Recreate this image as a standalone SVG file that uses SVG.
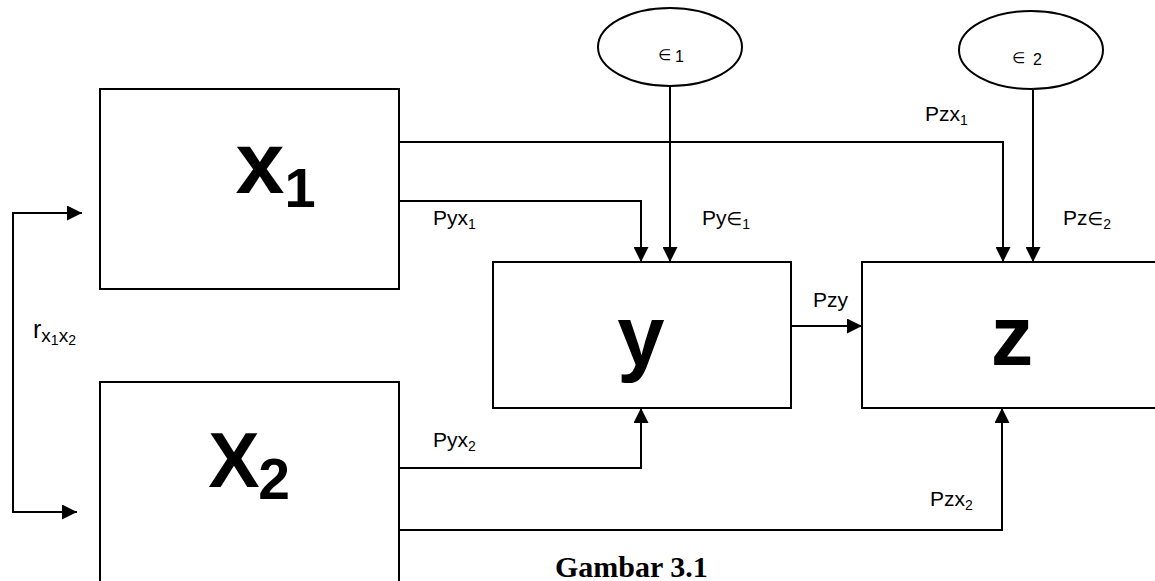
<svg xmlns="http://www.w3.org/2000/svg" width="1155" height="581" viewBox="0 0 1155 581">
<defs>
<style>
.box{fill:#fff;stroke:#000;stroke-width:2}
.ell{fill:#fff;stroke:#000;stroke-width:2}
.conn{fill:none;stroke:#000;stroke-width:2}
.big{font-family:"Liberation Sans",Arial,sans-serif;font-weight:bold;fill:#000;text-anchor:middle}
.lbl{font-family:"Liberation Sans",Arial,sans-serif;font-size:21px;fill:#000}
.sub{font-size:14px}
.sym{font-family:"DejaVu Sans",sans-serif}
.cap{font-family:"Liberation Serif","Times New Roman",serif;font-weight:bold;font-size:30px;fill:#000}
</style>
<marker id="ah" viewBox="0 0 15 15" refX="15" refY="7.5" markerWidth="15" markerHeight="15" markerUnits="userSpaceOnUse" orient="auto-start-reverse">
<path d="M0,0 L15,7.5 L0,15 z" fill="#000"/>
</marker>
</defs>
<rect width="1155" height="581" fill="#fff"/>

<g id="connectors">
<path class="conn" d="M399,142 H1003 V262" marker-end="url(#ah)"/>
<path class="conn" d="M399,201 H641 V262" marker-end="url(#ah)"/>
<path class="conn" d="M670,86 V262" marker-end="url(#ah)"/>
<path class="conn" d="M1033,89 V262" marker-end="url(#ah)"/>
<path class="conn" d="M791,326 H862" marker-end="url(#ah)"/>
<path class="conn" d="M399,468 H641 V408" marker-end="url(#ah)"/>
<path class="conn" d="M399,530 H1002 V408" marker-end="url(#ah)"/>
<path class="conn" d="M82,213 H13 V512 H77" marker-start="url(#ah)" marker-end="url(#ah)"/>
</g>

<g id="node-x1">
<rect class="box" x="100" y="89" width="299" height="200"/>
<text class="big" x="260" y="193" font-size="88">x</text>
<text class="big" x="300" y="207" font-size="56">1</text>
</g>

<g id="node-x2">
<rect class="box" x="100" y="382" width="299" height="215"/>
<text class="big" x="234" y="487" font-size="77">X</text>
<text class="big" x="274" y="499" font-size="57">2</text>
</g>

<g id="node-y">
<rect class="box" x="493" y="262" width="298" height="146"/>
<text class="big" x="641" y="365" font-size="85">y</text>
</g>

<g id="node-z">
<rect class="box" x="862" y="262" width="300" height="146"/>
<text class="big" x="1012" y="365" font-size="85">z</text>
</g>

<g id="node-e1">
<ellipse class="ell" cx="670" cy="47" rx="72" ry="39"/>
<text class="lbl" x="658" y="60"><tspan class="sym" font-size="15">∈</tspan><tspan x="675" y="62" font-size="16">1</tspan></text>
</g>

<g id="node-e2">
<ellipse class="ell" cx="1031" cy="50" rx="72" ry="39"/>
<text class="lbl" x="1012" y="63"><tspan class="sym" font-size="15">∈</tspan><tspan x="1033" y="65" font-size="16">2</tspan></text>
</g>

<g id="labels">
<text class="lbl" x="433" y="225">Pyx<tspan class="sub" dy="4">1</tspan></text>
<text class="lbl" x="702" y="225">Py<tspan class="sym" font-size="18">∈</tspan><tspan class="sub" dy="4">1</tspan></text>
<text class="lbl" x="925" y="121">Pzx<tspan class="sub" dy="4">1</tspan></text>
<text class="lbl" x="1063" y="225">Pz<tspan class="sym" font-size="18">∈</tspan><tspan class="sub" dy="4">2</tspan></text>
<text class="lbl" x="813" y="307">Pzy</text>
<text class="lbl" x="433" y="447">Pyx<tspan class="sub" dy="4">2</tspan></text>
<text class="lbl" x="930" y="506">Pzx<tspan class="sub" dy="4">2</tspan></text>
<text class="lbl" x="33" y="338" style="font-size:25px">r<tspan font-size="19" dy="4">x</tspan><tspan font-size="14" dy="3">1</tspan><tspan font-size="19" dy="-3">x</tspan><tspan font-size="14" dy="3">2</tspan></text>
<text class="cap" x="555" y="577">Gambar 3.1</text>
</g>
</svg>
